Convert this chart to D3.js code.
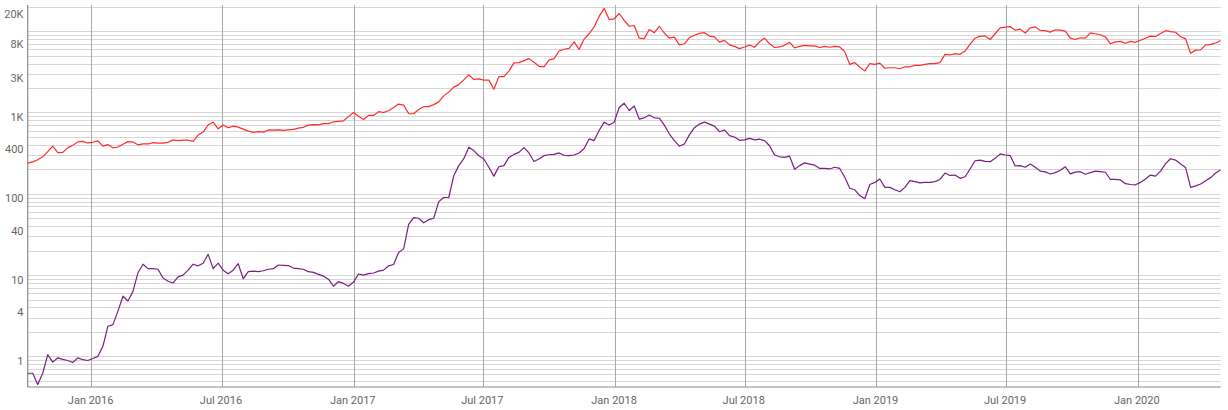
<!DOCTYPE html>
<html><head><meta charset="utf-8">
<script src="https://cdn.jsdelivr.net/npm/d3@7"></script>
<style>body{margin:0;background:#fff;} svg text{font-family:Roboto, "Noto Sans", sans-serif;}</style>
</head><body>
<svg id="chart" width="1228" height="410"></svg>
<script>
// weekly samples starting on this date
const startDate = "2015-10-04";
// red series (BTC, USD)
const btc = [238,247,262,285,330,385,320,323,370,395,435,441,422,
430,447,385,403,368,376,407,438,433,400,412,410,425,420,421,430,460,451,458,456,442,528,574,705,760,630,703,650,678,661,624,590,570,581,573,610,606,610,602,612,619,641,657,700,711,703,730,730,765,779,790,890,
1000,900,820,922,920,1025,1000,1050,1150,1270,1230,970,965,1090,1185,1180,1250,1350,1600,1780,2050,2200,2520,2900,2550,2590,2500,2500,1930,2760,2760,3230,4070,4100,4350,4600,4150,3700,3650,4400,4600,5700,6000,6150,7400,5950,8000,9300,11300,15200,19100,13900,14150,
16500,13600,11500,11750,8200,8100,10500,9600,11500,9500,8200,8450,6800,7000,8350,8900,9400,9600,8700,8500,7350,7700,6800,6500,6100,6400,6750,6350,7400,8200,7000,6300,6400,6700,7300,6250,6500,6700,6600,6600,6300,6500,6350,6500,6400,5600,3900,4100,3600,3250,4000,3900,
4050,3500,3550,3550,3450,3650,3650,3800,3800,3900,4000,3990,4100,5200,5100,5300,5200,5700,6950,8200,8700,8700,7900,9300,11000,11200,11400,10300,10600,9500,11000,11300,10200,10150,9750,10400,10300,10000,8200,7900,8300,8200,9550,9300,9050,8500,7000,7400,7500,7100,7500,7300,
7750,8200,8700,8600,9350,10150,9900,9700,8550,8050,5350,5850,5900,6800,6900,7150,7700];
// purple series (ETH, USD)
const eth = [0.62,0.62,0.45,0.62,1.05,0.85,0.96,0.92,0.89,0.84,0.96,0.91,0.89,
0.94,1.0,1.33,2.35,2.46,3.6,5.5,4.8,6.3,10.7,13.6,12.0,12.0,11.8,9.2,8.4,8.0,9.5,10.0,11.5,13.6,13.0,14.0,18.0,12.0,14.0,11.5,10.4,11.5,13.8,9.0,11.0,11.2,11.0,11.3,11.8,12.0,13.3,13.2,13.1,12.2,12.0,11.8,11.0,10.8,10.2,9.7,8.9,7.3,8.3,7.9,7.3,
8.2,10.3,10.0,10.4,10.6,11.2,11.5,13.0,13.5,19.0,21.0,42,51,50,44,48,50,80,90,90,167,222,270,374,340,294,268,212,165,215,222,280,305,323,370,318,250,268,294,302,305,318,298,294,300,318,360,473,451,600,760,700,760,
1150,1300,1058,1200,830,860,930,860,850,700,547,450,385,410,530,650,720,760,720,680,580,610,520,500,455,460,480,460,470,450,390,300,285,280,290,200,222,240,232,225,205,205,202,212,205,160,117,112,95,87,130,138,
152,120,120,112,106,120,145,141,136,138,138,141,150,180,168,170,155,162,202,255,260,250,248,273,310,300,295,220,222,212,232,212,190,186,175,182,195,215,176,185,187,174,182,190,187,184,150,150,148,133,130,129,
138,152,170,165,190,235,270,260,232,210,120,125,132,145,158,180,197];
const endDate = "2020-04-26";
const yMin = 0.42, yMax = 21000;
const yTickValues = [1,4,10,40,100,400,1000,3000,8000,20000];
const yTickLabels = ["1","4","10","40","100","400","1K","3K","8K","20K"];
const xTickDates = ["2016-01-01","2016-07-01","2017-01-01","2017-07-01","2018-01-01","2018-07-01","2019-01-01","2019-07-01","2020-01-01"];
const xTickLabels = ["Jan 2016","Jul 2016","Jan 2017","Jul 2017","Jan 2018","Jul 2018","Jan 2019","Jul 2019","Jan 2020"];

const parse = d3.utcParse("%Y-%m-%d");
const t0 = parse(startDate);
const dates = btc.map((_, i) => d3.utcDay.offset(t0, 7 * i));

const L = 27.7, R = 1220.7, T = 5, B = 387;
const svg = d3.select("#chart");
const x = d3.scaleUtc().domain([t0, parse(endDate)]).range([L, R]);
const y = d3.scaleLog().domain([yMin, yMax]).range([B, T]);

// horizontal grid (log minor ticks)
const grid = y.ticks().filter(v => v > yMin * 1.02 && v <= yMax);
svg.append("g").selectAll("line").data(grid).join("line")
  .attr("x1", L).attr("x2", R)
  .attr("y1", d => Math.round(y(d)) + 0.5).attr("y2", d => Math.round(y(d)) + 0.5)
  .attr("stroke", "#d6d6d6").attr("stroke-width", 1);

// vertical grid
svg.append("g").selectAll("line").data(xTickDates).join("line")
  .attr("x1", d => Math.round(x(parse(d))) + 0.5).attr("x2", d => Math.round(x(parse(d))) + 0.5)
  .attr("y1", T).attr("y2", B)
  .attr("stroke", "#a8a8a8").attr("stroke-width", 1);

// axis lines
svg.append("line").attr("x1", L).attr("x2", L).attr("y1", T).attr("y2", B)
  .attr("stroke", "#8a8a8a").attr("stroke-width", 1.2);
svg.append("line").attr("x1", L).attr("x2", R).attr("y1", B).attr("y2", B)
  .attr("stroke", "#8a8a8a").attr("stroke-width", 1.2);

// y labels
svg.append("g").selectAll("text").data(yTickValues).join("text")
  .attr("x", 23.5)
  .attr("y", d => Math.max(y(d) + 4.7, 14.3))
  .attr("dy", "0.35em")
  .attr("text-anchor", "end")
  .attr("font-size", 11).attr("fill", "#666")
  .text((d, i) => yTickLabels[i]);

// x labels
svg.append("g").selectAll("text").data(xTickDates).join("text")
  .attr("x", d => x(parse(d)) - 0.8)
  .attr("y", 403.5)
  .attr("text-anchor", "middle")
  .attr("font-size", 11).attr("fill", "#666")
  .text((d, i) => xTickLabels[i]);

svg.append("defs").append("clipPath").attr("id", "clip")
  .append("rect").attr("x", L).attr("y", T - 2).attr("width", R - L).attr("height", B - T + 2);

const line = d3.line().x((d, i) => x(dates[i])).y(d => y(d));
const g = svg.append("g").attr("clip-path", "url(#clip)");
g.append("path").datum(btc).attr("d", line)
  .attr("fill", "none").attr("stroke", "#ff2b2b").attr("stroke-width", 1.2).attr("stroke-linejoin", "round");
g.append("path").datum(eth).attr("d", line)
  .attr("fill", "none").attr("stroke", "#7a1f80").attr("stroke-width", 1.2).attr("stroke-linejoin", "round");
</script>
</body></html>
